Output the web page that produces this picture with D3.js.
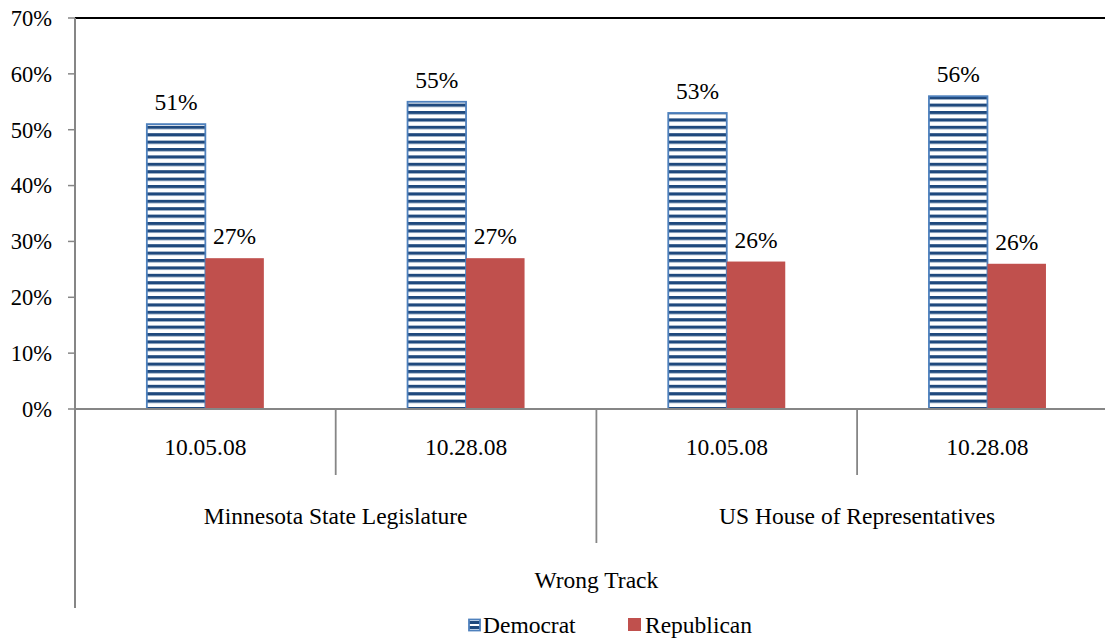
<!DOCTYPE html>
<html><head><meta charset="utf-8">
<script src="https://cdn.jsdelivr.net/npm/d3@7"></script>
<style>
html,body{margin:0;padding:0;background:#fff;overflow:hidden}
</style></head><body>
<svg id="c" width="1105" height="639" font-family="'Liberation Serif', 'Times New Roman', Tinos, 'DejaVu Serif', serif"></svg>
<script>
const categories = ["10.05.08","10.28.08","10.05.08","10.28.08"];
const groups = ["Minnesota State Legislature","US House of Representatives"];
const topLabel = "Wrong Track";
const series = ["Democrat","Republican"];
const democrat = [51,55,53,56];
const republican = [27,27,26.4,26];
const yTicks = [0,10,20,30,40,50,60,70];

const svg = d3.select("#c");
const FS = 23.5, FSY = 22.5;
const mLeft = 75, mTop = 18, mBottom = 409;
const catW = 260.7;
const x0 = d3.scaleBand().domain(d3.range(categories.length)).range([mLeft, mLeft + catW*categories.length]).paddingInner(0).paddingOuter(0);
const x1 = d3.scaleBand().domain(series).range([0, x0.bandwidth()]).paddingInner(0).paddingOuter(1.228);
const y = d3.scaleLinear().domain([0,70]).range([mBottom, mTop]);

const defs = svg.append("defs");
const pat = defs.append("pattern").attr("id","hstripe").attr("patternUnits","userSpaceOnUse")
  .attr("width",8).attr("height",7.4);
pat.append("rect").attr("width",8).attr("height",7.4).attr("fill","#fff");
pat.append("rect").attr("y",0).attr("width",8).attr("height",3.2).attr("fill","#1F497D");
const pat2 = defs.append("pattern").attr("id","hstripeL").attr("patternUnits","userSpaceOnUse")
  .attr("width",8).attr("height",5).attr("y",620);
pat2.append("rect").attr("width",8).attr("height",5).attr("fill","#fff");
pat2.append("rect").attr("y",1).attr("width",8).attr("height",3).attr("fill","#1F497D");

// y axis ticks & labels
const gy = svg.append("g");
gy.selectAll("line.t").data(yTicks).join("line")
  .attr("x1", mLeft-7).attr("x2", mLeft).attr("y1", d=>y(d)).attr("y2", d=>y(d))
  .attr("stroke","#868686").attr("stroke-width",1.5);
gy.selectAll("text").data(yTicks).join("text")
  .attr("x", 52).attr("y", d=>y(d)).attr("dy","0.35em").attr("text-anchor","end")
  .attr("font-size",FSY).text(d=>d+"%");

// top border
svg.append("line").attr("x1",mLeft).attr("x2",1105).attr("y1",mTop).attr("y2",mTop)
  .attr("stroke","#000").attr("stroke-width",2);

// bars
const data = [];
categories.forEach((c,i)=>{
  data.push({i, s:"Democrat", v:democrat[i]});
  data.push({i, s:"Republican", v:republican[i]});
});
const gb = svg.append("g");
gb.selectAll("rect").data(data).join("rect")
  .attr("x", d=>x0(d.i)+x1(d.s))
  .attr("width", x1.bandwidth())
  .attr("y", d=>y(d.v))
  .attr("height", d=>y(0)-y(d.v))
  .attr("fill", d=>d.s==="Democrat"?"url(#hstripe)":"#C0504D")
  .attr("stroke", d=>d.s==="Democrat"?"#4F81BD":"none")
  .attr("stroke-width",1.8);

// value labels
gb.selectAll("text").data(data).join("text")
  .attr("x", d=>x0(d.i)+x1(d.s)+x1.bandwidth()/2)
  .attr("y", d=>y(d.v)-14)
  .attr("text-anchor","middle").attr("font-size",FS)
  .text(d=>Math.round(d.v)+"%");

// axes lines
svg.append("line").attr("x1",mLeft).attr("x2",1105).attr("y1",mBottom).attr("y2",mBottom)
  .attr("stroke","#868686").attr("stroke-width",2);
svg.append("line").attr("x1",mLeft).attr("x2",mLeft).attr("y1",mTop).attr("y2",608)
  .attr("stroke","#868686").attr("stroke-width",2);

// category dividers
const row1 = 475, row2 = 543;
svg.selectAll("line.div1").data([1,3]).join("line")
  .attr("x1", d=>x0(d)).attr("x2", d=>x0(d)).attr("y1",mBottom).attr("y2",row1)
  .attr("stroke","#868686").attr("stroke-width",1.8);
svg.append("line").attr("x1",x0(2)).attr("x2",x0(2)).attr("y1",mBottom).attr("y2",row2)
  .attr("stroke","#868686").attr("stroke-width",1.8);

// category labels
svg.selectAll("text.c").data(categories).join("text")
  .attr("x",(d,i)=>x0(i)+x0.bandwidth()/2).attr("y",447).attr("dy","0.35em")
  .attr("text-anchor","middle").attr("font-size",FS).text(d=>d);
svg.selectAll("text.g").data(groups).join("text")
  .attr("x",(d,i)=>x0(i*2)+x0.bandwidth()).attr("y",516).attr("dy","0.35em")
  .attr("text-anchor","middle").attr("font-size",FS).text(d=>d);
svg.append("text").attr("x",x0(2)).attr("y",580).attr("dy","0.35em")
  .attr("text-anchor","middle").attr("font-size",FS).text(topLabel);

// legend
const lg = svg.append("g");
lg.append("rect").attr("x",469).attr("y",619.5).attr("width",11).attr("height",11)
  .attr("fill","url(#hstripeL)").attr("stroke","#4F81BD").attr("stroke-width",1.8);
lg.append("text").attr("x",483).attr("y",625).attr("dy","0.35em").attr("font-size",FS).text(series[0]);
lg.append("rect").attr("x",628).attr("y",618).attr("width",13).attr("height",13).attr("fill","#C0504D");
lg.append("text").attr("x",645).attr("y",625).attr("dy","0.35em").attr("font-size",FS).text(series[1]);
</script></body></html>
